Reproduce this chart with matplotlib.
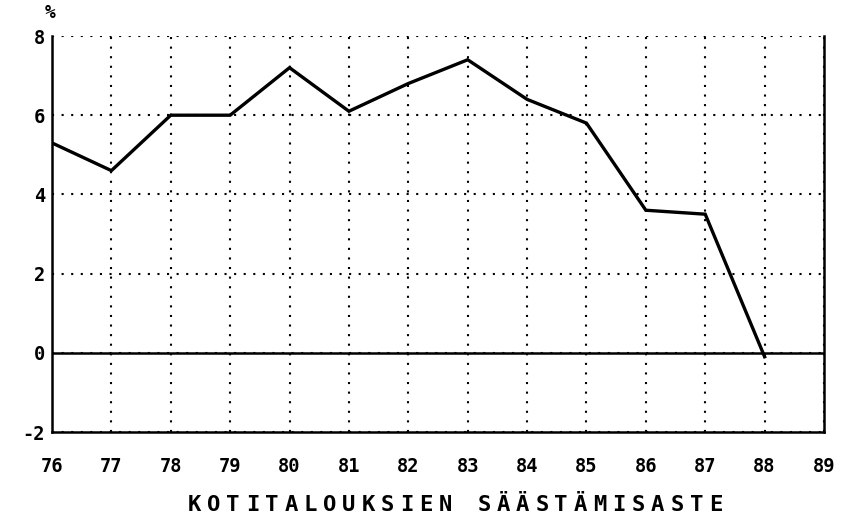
import matplotlib
matplotlib.use('Agg')
import matplotlib.pyplot as plt

# kotitalouksien säästämisaste, %
years = [76, 77, 78, 79, 80, 81, 82, 83, 84, 85, 86, 87, 88]
rate = [5.3, 4.6, 6.0, 6.0, 7.2, 6.1, 6.8, 7.4, 6.4, 5.8, 3.6, 3.5, -0.1]
xticks = list(range(76, 90))
yticks = [-2, 0, 2, 4, 6, 8]
title = 'KOTITALOUKSIEN SÄÄSTÄMISASTE'

plt.rcParams['font.family'] = 'DejaVu Sans Mono'
plt.rcParams['font.weight'] = 'bold'

fig = plt.figure(figsize=(8.42, 5.22), dpi=100)
ax = fig.add_axes([52/842, 90/522, 772/842, 396/522])

ax.plot(years, rate, color='black', linewidth=2.4, solid_joinstyle='miter', zorder=3)
ax.axhline(0, color='black', linewidth=1.8, zorder=2)

ax.set_xlim(76, 89)
ax.set_ylim(-2, 8)
ax.set_xticks(xticks)
ax.set_xticklabels([str(x) for x in xticks])
ax.set_yticks(yticks)
ax.set_yticklabels(['-2', '0', '2', '4', '6', '8'])
ax.tick_params(length=0, labelsize=13.5, pad=5)
ax.tick_params(axis='x', pad=18)

ax.grid(True, color='black', linestyle=(0, (1, 3.6)), linewidth=1.5)
ax.set_axisbelow(True)

ax.spines['top'].set_visible(False)
for s in ('left', 'right', 'bottom'):
    ax.spines[s].set_linewidth(1.8)

ax.text(-0.009, 1.035, '%', transform=ax.transAxes, fontsize=13,
        fontweight='bold', ha='left', va='bottom')

# spaced-out caption, one character at a time
pitch = 19.3 / 842
x0 = 455 / 842 - pitch * (len(title) - 1) / 2
for i, ch in enumerate(title):
    fig.text(x0 + i * pitch, 17 / 522, ch, fontsize=16, fontweight='bold',
             ha='center', va='center')

fig.savefig('out.png', dpi=100)
